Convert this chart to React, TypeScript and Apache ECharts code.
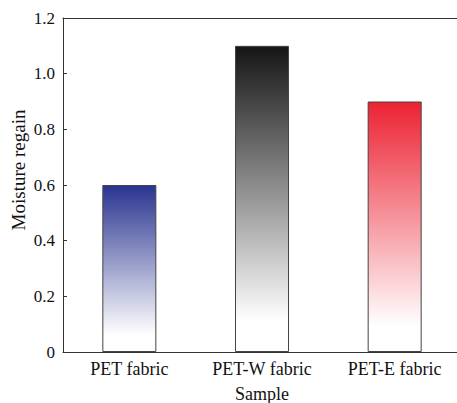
import React, { useEffect, useRef } from "react";
import * as echarts from "echarts";

const categories = ["PET fabric", "PET-W fabric", "PET-E fabric"];
const values = [0.6, 1.1, 0.9];
const topColors = ["#2a3490", "#151515", "#ec2232"];
const yTicks = [0, 0.2, 0.4, 0.6, 0.8, 1.0, 1.2];

const FONT = "'Liberation Serif', 'Times New Roman', serif";

export default function App() {
  const ref = useRef<HTMLDivElement>(null);
  useEffect(() => {
    if (!ref.current) return;
    const chart = echarts.init(ref.current, null, { renderer: "svg" });
    const grad = (c: string) =>
      new echarts.graphic.LinearGradient(0, 0, 0, 1, [
        { offset: 0, color: c },
        { offset: 0.9, color: "#ffffff" },
        { offset: 1, color: "#ffffff" },
      ]);
    chart.setOption({
      animation: false,
      backgroundColor: "#ffffff",
      grid: {
        left: 63,
        right: -4,
        top: 18,
        bottom: 51,
        containLabel: false,
        outerBoundsMode: "none",
      },
      xAxis: [
        {
          type: "category",
          data: categories,
          position: "bottom",
          axisLine: { show: true, lineStyle: { color: "#333", width: 1 } },
          axisTick: { show: false },
          axisLabel: { color: "#111", fontFamily: FONT, fontSize: 18, margin: 8 },
          name: "Sample",
          nameLocation: "middle",
          nameGap: 33,
          nameMoveOverlap: false,
          nameTextStyle: { color: "#111", fontFamily: FONT, fontSize: 18 },
        },
        {
          type: "category",
          data: categories,
          position: "top",
          axisLine: { show: true, lineStyle: { color: "#333", width: 1 } },
          axisTick: { show: false },
          axisLabel: { show: false },
        },
      ],
      yAxis: {
        type: "value",
        min: yTicks[0],
        max: yTicks[yTicks.length - 1],
        interval: 0.2,
        axisLine: { show: true, lineStyle: { color: "#333", width: 1 } },
        axisTick: { show: true, inside: true, length: 4, lineStyle: { color: "#333" } },
        splitLine: { show: false },
        axisLabel: {
          color: "#111",
          fontFamily: FONT,
          fontSize: 17,
          margin: 8,
          formatter: (v: number) => (v === 0 ? "0" : v.toFixed(1)),
        },
        name: "Moisture regain",
        nameLocation: "middle",
        nameGap: 35,
        nameMoveOverlap: false,
        nameTextStyle: { color: "#111", fontFamily: FONT, fontSize: 19, padding: [0, 0, 0, 30] },
      },
      series: [
        {
          type: "bar",
          barWidth: 54,
          data: values.map((v, i) => ({
            value: v,
            itemStyle: { color: grad(topColors[i]), borderColor: "#444", borderWidth: 1 },
          })),
        },
      ],
    });
    return () => chart.dispose();
  }, []);
  return (
    <div
      ref={ref}
      style={{ position: "fixed", left: 0, top: 0, width: 457, height: 403 }}
    />
  );
}
